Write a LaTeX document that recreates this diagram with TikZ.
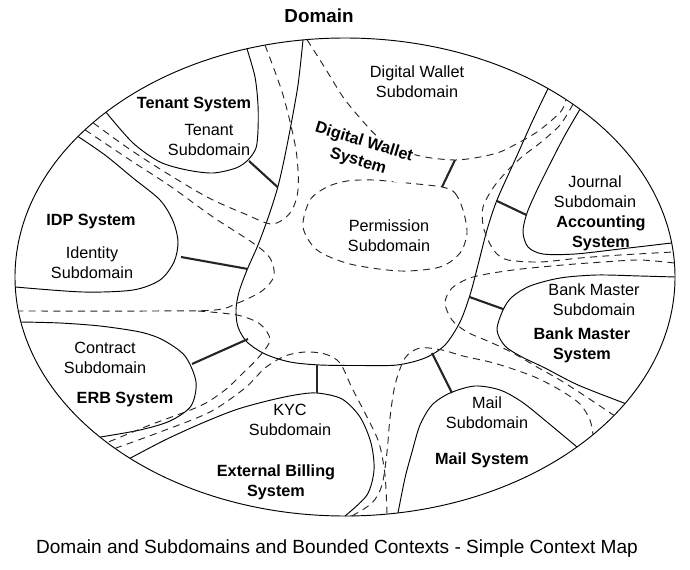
\documentclass[tikz,border=0pt]{standalone}
\usepackage{fontspec}
\setmainfont{Liberation Sans}
\usetikzlibrary{positioning}
\tikzset{
    sysline/.style = {-, line width=0.8pt, black, line join=round},
    subline/.style = {-, line width=0.8pt, black!85, dashed, dash pattern=on 6pt off 4.5pt},
    edgel/.style = {-, line width=1.8pt, black!85},
    labn/.style = {align=center, inner sep=0pt, font=\fontsize{13.8}{17}\selectfont},
    labb/.style = {align=center, inner sep=0pt, font=\fontsize{13.8}{17}\selectfont\bfseries},
    titleb/.style = {inner sep=0pt, font=\fontsize{16}{19}\selectfont\bfseries},
    captn/.style = {inner sep=0pt, font=\fontsize{16.2}{19}\selectfont}
}
\begin{document}
\begin{tikzpicture}[x=0.85pt, y=-0.85pt]
\useasboundingbox (0,0) rectangle (690,570);

\draw[sysline] (345,277) ellipse [x radius=330, y radius=239];
\node[titleb] at (319,16) (domain) {Domain};
\node[captn] at (337,549) (caption) {Domain and Subdomains and Bounded Contexts - Simple Context Map};

% bounded contexts
\draw[sysline] plot[smooth] coordinates {(247,48.8) (255,77) (258,105) (258,130) (256,148) (248,160) (236,168) (213,173) (187,170) (160,162) (133,143) (106,112.2)};
\draw[sysline] plot[smooth] coordinates {(78,136.5) (105,155) (133,178) (160,200) (173,221) (178,242) (174,262) (160,280) (133,290) (83,292) (15.3,287)};
\draw[sysline] plot[smooth] coordinates {(20.9,322) (60,323) (100,326) (140,332) (163,340) (185,356) (196,382) (191,406) (170,421) (140,430) (100,437.1)};
\draw[sysline] plot[smooth] coordinates {(130,458.3) (165,440) (200,424) (235,410) (267,401) (295,395) (317,393) (342,399) (360,417) (371,443) (374,470) (367,495) (345,516)};
\draw[sysline] plot[smooth] coordinates {(398,512.9) (405,478) (412,452) (420,425) (432,405) (450,393) (475,386) (500,390) (522,402) (547,422) (577,447)};
\draw[sysline] plot[smooth] coordinates {(675,277) (640,276) (597,275) (560,278) (530,286) (512,297) (503,310) (497,330) (505,346) (522,357) (545,368) (578,385) (625,403.4)};
\draw[sysline] plot[smooth] coordinates {(580,109.2) (565,135) (552,160) (538,188) (527,213) (523,232) (528,247) (543,254) (575,254) (620,249) (671.6,243)};
\draw[sysline] plot[smooth] coordinates {(303,39.9) (298,85) (290,130) (283,165) (277,190) (268,218) (258,245) (247,270) (239,292) (236,310) (238,327) (247,342) (265,354) (290,362) (320,365) (360,365.5) (397,365) (425,358) (445,345) (460,322) (470,295) (478,265) (487,230) (497,200) (515,160) (532,122) (548,88.6)};

% subdomains
\draw[subline] plot[smooth] coordinates {(307,39.6) (325,68) (343,97) (360,118) (378,137) (400,150) (425,157) (455,160) (480,157) (500,152) (520,142) (537,132) (552,120) (562,110) (566,99.5)};
\draw[subline] plot[smooth] coordinates {(265,45.1) (283,95) (296,150) (298,190) (290,213) (272,224) (245,214) (207,197) (160,169) (125,146) (93,122.7)};
\draw[subline] plot[smooth] coordinates {(85,129.8) (130,160) (170,186) (213,217) (253,243) (270,258) (274,276) (262,291) (238,303) (215,310) (150,311) (18.4,311)};
\draw[subline] plot[smooth] coordinates {(198,311) (237,315) (260,324) (270,340) (258,358) (243,373) (225,390) (200,406) (150,425) (107,442.6)};
\draw[subline] plot[smooth] coordinates {(115,448.4) (160,432) (210,412) (245,388) (265,368) (285,356) (305,352) (325,354) (340,363) (352,388) (367,417) (379,443) (385,475) (387,514.1)};
\draw[subline] plot[smooth] coordinates {(352,515.9) (372,503) (382,485) (387,452) (390,418) (395,385) (405,358) (420,348) (442,350) (463,356) (490,362) (513,369) (537,378) (560,390) (580,404) (590,420) (593,434.7)};
\draw[subline] plot[smooth] coordinates {(674.4,263) (640,260) (603,262) (563,265) (513,270) (473,277) (452,288) (445,303) (452,320) (467,332) (490,342) (513,353) (537,367) (560,380) (585,396) (614,415.4)};
\draw[subline] plot[smooth] coordinates {(573,104.2) (560,125) (540,143) (523,156) (508,170) (493,188) (483,207) (483,225) (488,240) (496,253) (508,260) (540,262) (580,258) (620,255) (673.2,252)};
\draw[subline] plot[smooth cycle] coordinates {(442,187) (455,193) (463,210) (467,233) (460,253) (440,267) (400,271) (350,264) (317,250) (303,227) (310,200) (327,187) (347,181) (373,180) (407,183)};

% labels
\node[labb] at (194,105) (tensys) {Tenant System};
\node[labn] at (209,140) (tensub) {Tenant\\Subdomain};
\node[labb] at (91,222) (idpsys) {IDP System};
\node[labn] at (92,263) (idpsub) {Identity\\Subdomain};
\node[labn] at (105,358) (consub) {Contract\\Subdomain};
\node[labb] at (125,400) (erbsys) {ERB System};
\node[labn] at (290,420) (kycsub) {KYC\\Subdomain};
\node[labb] at (276,482) (extsys) {External Billing\\System};
\node[labn] at (487,413) (mailsub) {Mail\\Subdomain};
\node[labb] at (482,460) (mailsys) {Mail System};
\node[labn] at (594,300) (banksub) {Bank Master\\Subdomain};
\node[labb] at (582,345) (banksys) {Bank Master\\System};
\node[labn] at (595,192) (jousub) {Journal\\Subdomain};
\node[labb] at (601,233) (accsys) {Accounting\\System};
\node[labn] at (389,236) (permsub) {Permission\\Subdomain};
\node[labn] at (417,82) (dwsub) {Digital Wallet\\Subdomain};
\node[labb, rotate=-17, fill=white, inner sep=1pt] at (361,152) (dwsys) {Digital Wallet\\System};

% relationships
\coordinate (ten1) at (249,161);
\coordinate (ten2) at (277.5,187);
\coordinate (idp1) at (181,257);
\coordinate (idp2) at (248,269);
\coordinate (erb1) at (192,364);
\coordinate (erb2) at (248,339);
\coordinate (kyc1) at (317,393);
\coordinate (kyc2) at (317,365);
\coordinate (mail1) at (452,393);
\coordinate (mail2) at (432,353);
\coordinate (bank1) at (503,309);
\coordinate (bank2) at (469.5,297);
\coordinate (acc1) at (526.5,215);
\coordinate (acc2) at (497,201);
\coordinate (perm1) at (442,187);
\coordinate (dw1) at (455,160);

\draw[edgel] (ten1) edge (ten2);
\draw[edgel] (idp1) edge (idp2);
\draw[edgel] (erb1) edge (erb2);
\draw[edgel] (kyc1) edge (kyc2);
\draw[edgel] (mail1) edge (mail2);
\draw[edgel] (bank1) edge (bank2);
\draw[edgel] (acc1) edge (acc2);
\draw[edgel] (perm1) edge (dw1);

\end{tikzpicture}
\end{document}
